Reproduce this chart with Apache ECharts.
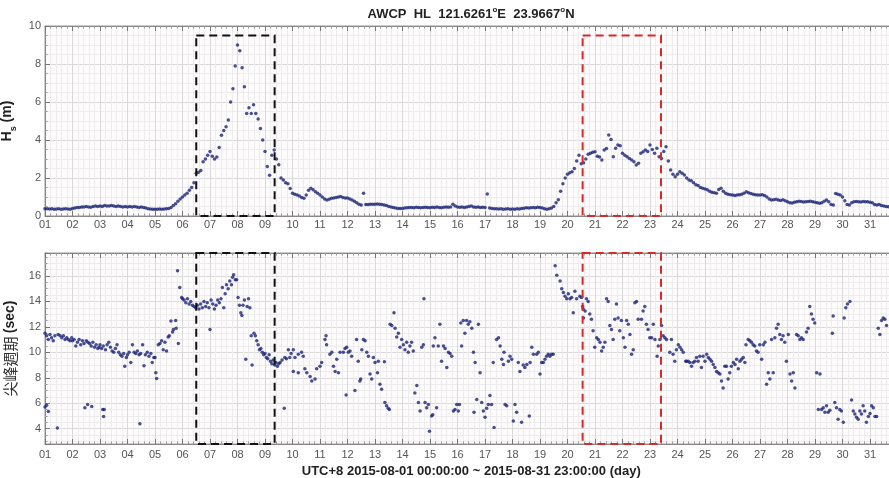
<!DOCTYPE html>
<html><head><meta charset="utf-8">
<script src="https://cdn.jsdelivr.net/npm/echarts@6/dist/echarts.min.js"></script>
<style>html,body{margin:0;padding:0;background:#fff}#c{width:889px;height:478px}</style>
</head><body><div id="c"></div>
<script>
// Significant wave height Hs (m), 2-hourly values, one row per day (Aug 1..31, 2015)
const hsByDay = [
[0.38,0.38,0.37,0.38,0.36,0.37,0.38,0.36,0.37,0.38,0.37,0.36],
[0.40,0.42,0.45,0.45,0.48,0.47,0.50,0.48,0.46,0.50,0.52,0.50],
[0.52,0.50,0.55,0.53,0.52,0.55,0.53,0.50,0.52,0.50,0.48,0.50],
[0.48,0.50,0.47,0.50,0.48,0.45,0.47,0.45,0.42,0.38,0.37,0.36],
[0.36,0.35,0.37,0.36,0.37,0.38,0.40,0.45,0.55,0.65,0.78,0.90],
[1.00,1.10,1.20,1.35,1.50,1.75,2.25,2.30,2.40,2.85,3.00,3.20],
[3.40,3.15,3.00,3.10,3.60,4.25,4.50,4.70,5.05,6.00,6.70,7.90],
[9.00,8.70,7.80,6.80,5.40,5.70,5.40,5.85,5.40,5.10,4.60,4.00],
[3.40,2.60,2.15,3.20,3.47,3.00,2.70,2.00,1.90,1.75,1.70,1.45],
[1.20,1.15,1.10,1.05,0.98,0.93,1.10,1.35,1.46,1.38,1.28,1.20],
[1.10,1.00,0.90,0.84,0.88,0.93,0.95,0.98,1.00,1.02,0.98,0.95],
[0.95,0.90,0.84,0.78,0.70,0.62,0.58,1.20,0.60,0.60,0.62,0.62],
[0.62,0.63,0.62,0.60,0.58,0.55,0.50,0.48,0.45,0.42,0.40,0.40],
[0.40,0.42,0.44,0.45,0.45,0.44,0.46,0.45,0.44,0.45,0.46,0.45],
[0.44,0.46,0.45,0.47,0.45,0.44,0.46,0.48,0.46,0.48,0.62,0.52],
[0.48,0.46,0.47,0.45,0.48,0.50,0.52,0.48,0.46,0.47,0.45,0.46],
[0.45,1.16,0.42,0.40,0.38,0.38,0.37,0.38,0.36,0.37,0.38,0.36],
[0.37,0.36,0.38,0.37,0.39,0.41,0.43,0.42,0.44,0.45,0.44,0.46],
[0.45,0.42,0.38,0.36,0.38,0.42,0.50,0.70,0.85,1.30,1.70,2.00],
[2.20,2.28,2.33,2.50,2.90,3.20,2.75,2.80,3.00,3.25,3.30,3.35],
[3.38,3.15,3.10,2.95,3.47,3.55,4.26,4.03,3.12,3.56,3.74,3.70],
[3.30,3.20,3.12,3.03,2.95,2.86,2.68,2.77,3.30,3.38,3.47,3.40],
[3.74,3.50,3.30,3.56,3.12,3.03,3.40,3.65,2.90,2.42,2.20,2.07],
[2.20,2.33,2.25,2.16,2.00,1.90,1.85,1.75,1.65,1.60,1.50,1.46],
[1.42,1.38,1.30,1.25,1.22,1.20,1.40,1.46,1.30,1.20,1.15,1.12],
[1.10,1.08,1.10,1.12,1.15,1.20,1.28,1.22,1.18,1.15,1.12,1.10],
[1.10,1.12,1.08,1.00,0.90,0.84,0.85,0.88,0.84,0.82,0.85,0.80],
[0.75,0.70,0.68,0.72,0.75,0.78,0.76,0.74,0.75,0.76,0.78,0.75],
[0.72,0.70,0.67,0.70,0.78,0.84,0.75,0.60,0.58,1.19,1.15,1.10],
[1.00,0.80,0.60,0.58,0.70,0.75,0.76,0.75,0.74,0.76,0.75,0.75],
[0.72,0.70,0.60,0.58,0.60,0.55,0.52,0.50,0.49,0.48,0.47,0.46]
];
const hsStepsPerDay = 12;

// Peak period Tp (sec): [day of month (fractional), seconds]
const tpPoints = [
[1.00,11.5],[1.00,5.7],[1.06,11.3],[1.06,5.85],[1.12,11.0],[1.12,5.35],[1.18,11.4],[1.24,11.15],[1.30,10.9],[1.36,11.3],[1.45,4.05],[1.48,11.4],[1.55,11.3],[1.61,11.15],[1.67,11.3],[1.73,11.0],[1.79,11.15],[1.85,11.0],[1.91,10.9],[1.97,11.15],
[2.00,10.9],[2.06,11.0],[2.12,10.5],[2.18,10.8],[2.24,11.0],[2.30,10.6],[2.36,10.9],[2.42,10.7],[2.45,5.65],[2.50,10.9],[2.55,5.9],[2.56,10.8],[2.62,10.7],[2.68,10.5],[2.70,5.75],[2.74,10.8],[2.80,10.4],[2.86,10.6],[2.92,10.3],[2.97,10.4],
[3.00,10.6],[3.06,10.3],[3.10,5.5],[3.12,10.5],[3.13,4.95],[3.15,5.5],[3.20,10.2],[3.26,10.6],[3.32,10.8],[3.38,10.4],[3.44,10.1],[3.50,10.0],[3.56,10.3],[3.62,10.6],[3.68,10.0],[3.74,9.8],[3.80,9.7],[3.86,9.9],[3.90,8.9],[3.96,9.6],
[4.00,9.8],[4.06,10.0],[4.12,9.2],[4.18,10.6],[4.24,10.0],[4.30,9.9],[4.36,10.1],[4.42,9.8],[4.45,4.4],[4.48,9.9],[4.55,10.6],[4.60,8.95],[4.65,9.8],[4.72,10.0],[4.78,9.7],[4.85,9.9],[4.90,9.2],[4.96,9.6],
[5.00,9.6],[5.03,8.4],[5.06,7.95],[5.12,10.6],[5.18,10.7],[5.24,10.9],[5.30,10.2],[5.36,10.8],[5.42,10.1],[5.48,11.2],[5.52,11.3],[5.58,12.45],[5.64,11.6],[5.67,11.8],[5.75,12.5],[5.77,11.9],[5.82,16.4],[5.85,10.7],[5.90,15.1],[5.97,14.3],
[6.00,14.2],[6.06,14.1],[6.12,13.9],[6.18,14.2],[6.24,13.8],[6.30,14.0],[6.36,13.7],[6.42,13.6],[6.48,13.5],[6.54,13.7],[6.60,13.4],[6.66,13.8],[6.72,13.5],[6.78,14.0],[6.84,13.6],[6.90,13.9],[6.96,13.5],
[7.00,11.8],[7.04,14.1],[7.10,13.8],[7.16,13.4],[7.22,13.7],[7.28,14.1],[7.34,13.9],[7.40,14.2],[7.45,15.1],[7.50,13.5],[7.55,14.6],[7.60,15.3],[7.66,15.0],[7.72,15.6],[7.78,15.3],[7.82,15.9],[7.86,16.1],[7.92,15.7],[7.97,15.7],
[8.02,14.3],[8.07,13.7],[8.12,13.1],[8.16,12.9],[8.20,13.7],[8.25,14.1],[8.30,9.45],[8.35,13.6],[8.40,14.2],[8.45,13.5],[8.50,11.3],[8.53,9.0],[8.60,11.5],[8.65,11.3],[8.70,10.9],[8.75,10.6],[8.80,10.2],[8.85,10.3],[8.90,10.0],[8.95,9.8],
[9.00,9.9],[9.05,9.6],[9.10,9.5],[9.15,9.8],[9.20,9.3],[9.25,9.1],[9.30,9.4],[9.35,9.0],[9.40,9.2],[9.45,8.9],[9.50,9.1],[9.55,9.2],[9.62,9.4],[9.70,5.6],[9.72,9.6],[9.78,9.5],[9.85,10.2],[9.90,9.6],[9.95,9.9],
[10.03,10.2],[10.03,8.5],[10.09,9.6],[10.21,9.85],[10.21,8.4],[10.33,10.0],[10.39,9.7],[10.45,8.7],[10.52,8.4],[10.64,8.1],[10.70,7.75],[10.82,7.9],[10.88,8.7],[11.00,8.9],[11.06,9.2],
[11.18,11.0],[11.22,11.3],[11.24,10.6],[11.36,9.85],[11.43,10.0],[11.49,8.9],[11.55,8.5],[11.61,9.45],[11.67,8.4],[11.73,10.0],[11.85,10.0],[11.91,10.3],[11.95,6.65],[11.97,10.4],
[12.03,10.0],[12.09,10.1],[12.15,9.7],[12.27,7.0],[12.33,11.0],[12.39,9.3],[12.45,7.75],[12.48,7.9],[12.52,10.2],[12.58,11.0],[12.64,10.9],[12.70,10.0],[12.76,9.7],[12.82,8.3],[12.88,7.9],[12.94,9.6],
[13.00,9.2],[13.09,8.4],[13.12,9.3],[13.18,7.5],[13.24,7.1],[13.34,9.25],[13.36,6.05],[13.42,5.8],[13.48,5.6],[13.52,5.5],[13.55,12.2],[13.61,12.1],[13.69,13.1],[13.73,11.9],[13.79,11.2],[13.85,11.5],[13.91,10.4],[13.97,11.0],
[14.03,10.6],[14.09,10.2],[14.15,10.8],[14.21,10.0],[14.27,10.5],[14.33,10.8],[14.39,10.1],[14.45,6.8],[14.52,7.4],[14.58,6.05],[14.64,5.4],[14.70,10.4],[14.76,10.6],[14.78,14.2],[14.82,6.05],[14.88,5.65],[14.94,5.9],
[14.98,3.8],[15.06,5.0],[15.10,5.1],[15.12,10.5],[15.18,11.15],[15.24,5.65],[15.30,10.5],[15.36,12.2],[15.42,9.3],[15.49,10.5],[15.55,10.3],[15.61,8.8],[15.67,10.0],[15.73,9.9],[15.79,9.7],[15.85,5.4],[15.91,5.5],[15.97,5.9],
[16.03,5.4],[16.07,5.9],[16.12,12.3],[16.15,10.5],[16.21,12.5],[16.27,11.5],[16.33,12.5],[16.39,12.2],[16.45,12.4],[16.52,11.9],[16.58,10.0],[16.60,5.3],[16.64,9.2],[16.70,6.3],[16.76,12.2],[16.82,8.4],[16.88,6.05],[16.94,5.4],
[17.00,4.9],[17.06,5.6],[17.12,5.9],[17.18,6.6],[17.24,5.9],[17.30,9.2],[17.33,4.1],[17.42,11.0],[17.49,11.15],[17.55,10.5],[17.61,9.45],[17.67,9.05],[17.69,10.0],[17.73,5.9],[17.79,5.8],[17.85,9.3],[17.91,9.7],[17.97,9.45],
[18.03,4.6],[18.09,5.9],[18.15,5.3],[18.21,9.2],[18.27,8.5],[18.33,4.5],[18.39,9.0],[18.45,8.8],[18.52,9.05],[18.61,5.0],[18.64,9.2],[18.70,10.4],[18.76,9.85],[18.88,9.85],[18.94,10.0],
[19.00,8.3],[19.06,9.2],[19.12,9.2],[19.18,9.45],[19.24,9.7],[19.30,9.85],[19.36,9.7],[19.42,9.85],[19.48,9.85],[19.55,16.8],[19.61,16.05],[19.73,15.6],[19.79,15.0],[19.85,14.7],[19.91,14.4],[19.97,14.2],
[20.03,14.6],[20.09,14.2],[20.15,14.3],[20.21,13.1],[20.27,14.8],[20.33,14.2],[20.45,14.4],[20.51,14.3],[20.55,13.6],[20.57,13.4],[20.58,12.7],[20.64,13.25],[20.69,14.2],[20.75,14.0],[20.81,13.0],[20.87,12.6],[20.93,11.7],[20.99,10.4],
[21.06,11.15],[21.12,11.0],[21.18,10.8],[21.24,10.1],[21.30,10.4],[21.36,10.8],[21.42,14.2],[21.48,14.0],[21.54,12.1],[21.60,11.8],[21.66,11.0],[21.72,12.6],[21.78,13.8],[21.84,12.7],[21.90,11.7],[21.96,12.5],
[22.03,11.15],[22.09,10.4],[22.15,12.5],[22.21,12.2],[22.27,11.4],[22.33,9.85],[22.39,10.2],[22.45,13.9],[22.51,14.0],[22.57,12.6],[22.69,12.6],[22.75,13.25],[22.81,13.6],[22.87,12.2],[22.93,11.8],[22.99,11.15],
[23.06,11.15],[23.12,12.2],[23.18,11.0],[23.26,9.7],[23.30,10.5],[23.36,11.0],[23.42,12.1],[23.48,11.3],[23.54,11.15],[23.60,11.0],[23.72,10.0],[23.78,11.0],[23.84,9.85],[23.90,9.3],[23.96,10.2],
[24.03,10.6],[24.09,10.4],[24.15,10.2],[24.21,10.0],[24.30,9.3],[24.33,9.3],[24.39,9.3],[24.45,9.2],[24.51,8.9],[24.57,9.2],[24.63,9.3],[24.69,9.6],[24.75,9.3],[24.81,9.7],[24.87,8.8],[24.93,9.7],
[25.00,9.3],[25.06,9.85],[25.12,9.6],[25.18,9.45],[25.24,9.3],[25.30,9.05],[25.36,8.8],[25.42,8.5],[25.48,8.4],[25.54,8.3],[25.60,7.75],[25.66,7.2],[25.72,8.9],[25.78,8.9],[25.84,7.9],[25.90,8.4],[25.96,8.9],
[26.03,9.2],[26.09,9.05],[26.15,9.45],[26.21,8.7],[26.27,9.3],[26.33,9.45],[26.39,9.6],[26.45,9.2],[26.49,10.6],[26.57,11.0],[26.63,10.9],[26.69,10.8],[26.75,10.6],[26.81,10.5],[26.87,10.1],[26.93,10.0],[26.99,10.6],
[27.06,9.45],[27.12,10.6],[27.18,10.8],[27.24,7.5],[27.30,8.4],[27.36,7.9],[27.42,11.0],[27.48,8.4],[27.54,11.15],[27.60,11.9],[27.66,12.2],[27.72,11.4],[27.78,11.0],[27.84,11.3],[27.90,10.8],[27.96,9.3],
[28.03,11.4],[28.09,8.3],[28.15,7.75],[28.21,8.4],[28.27,7.2],[28.33,11.4],[28.39,11.3],[28.45,11.0],[28.51,11.15],[28.57,11.0],[28.69,11.6],[28.75,11.9],[28.81,13.6],[28.87,13.0],[28.93,12.6],[28.99,12.3],
[29.06,8.4],[29.12,5.5],[29.18,8.3],[29.24,5.5],[29.30,5.65],[29.36,5.3],[29.42,5.8],[29.48,5.3],[29.54,5.45],[29.63,11.5],[29.66,12.85],[29.72,6.05],[29.78,5.65],[29.84,4.75],[29.90,5.5],[29.96,5.4],
[30.03,4.5],[30.06,12.7],[30.12,13.5],[30.18,13.8],[30.27,14.0],[30.33,6.25],[30.39,5.4],[30.45,5.15],[30.51,4.9],[30.57,4.75],[30.63,5.4],[30.69,5.15],[30.75,5.8],[30.81,5.4],[30.87,4.5],[30.94,4.95],
[31.00,5.2],[31.06,5.8],[31.12,5.65],[31.18,4.95],[31.24,4.95],[31.30,11.9],[31.36,11.4],[31.42,12.5],[31.48,12.7],[31.54,12.6],[31.60,12.1]
];

// Highlighted event windows (day of month)
const boxBlack = [6.5, 9.35];
const boxRed = [20.55, 23.4];
const boxTopHs = 9.5;

const titleParts = ['AWCP  HL  121.6261', 'E  23.9667', 'N'];
const xTitle = 'UTC+8 2015-08-01 00:00:00 ~ 2015-08-31 23:00:00 (day)';
const dayMin = 1, dayMax = 32;
const hsRange = [0, 10];
const tpRange = [2.8, 17.8];

const hsData = [];
hsByDay.forEach((row, d) => row.forEach((v, k) => hsData.push([d + 1 + k / hsStepsPerDay, v])));

const dotColor = '#1c2478';
const gridLine = '#dadada';
const minorLine = '#ededed';
const labelColor = '#555';

function xAxes(gi, showLabels, margin, extra) {
  const common = {
    type: 'value', gridIndex: gi, min: dayMin, max: dayMax, interval: 1,
    axisLine: { show: true, lineStyle: { color: '#888', width: 1 } },
    axisTick: { show: true, inside: true, length: 5, lineStyle: { color: '#777' } },
    minorTick: { show: true, splitNumber: 5, length: 2.5, lineStyle: { color: '#999' } },
  };
  return [
    Object.assign({}, common, {
      position: 'bottom',
      axisLabel: { show: showLabels, margin: margin, color: labelColor, fontSize: 11, fontFamily: 'Liberation Sans, Arial',
        formatter: v => (v <= 31 ? String(v).padStart(2, '0') : '') },
      splitLine: { show: true, lineStyle: { color: gridLine, width: 1 } },
      minorSplitLine: { show: true, lineStyle: { color: minorLine, width: 1 } }
    }, extra || {}),
    Object.assign({}, common, {
      position: 'top', axisLabel: { show: false }, splitLine: { show: false }
    })
  ];
}

const dashBlack = { color: 'rgba(0,0,0,0)', borderColor: '#111', borderWidth: 2, borderType: [8, 5] };
const dashRed = { color: 'rgba(0,0,0,0)', borderColor: '#d42a2a', borderWidth: 2, borderType: [8, 5] };

const option = {
  animation: false,
  backgroundColor: '#ffffff',
  graphic: [{
    type: 'text', x: 471, y: 13, z: 10,
    style: {
      text: '{b|' + titleParts[0] + '}{s|o}{b|' + titleParts[1] + '}{s|o}{b|' + titleParts[2] + '}',
      align: 'center', verticalAlign: 'middle',
      rich: {
        b: { fontSize: 13, fontWeight: 'bold', fontFamily: 'Liberation Sans, Arial', fill: '#222', lineHeight: 15, verticalAlign: 'bottom' },
        s: { fontSize: 8, fontWeight: 'bold', fontFamily: 'Liberation Sans, Arial', fill: '#222', lineHeight: 15, verticalAlign: 'top' }
      }
    }
  }],
  grid: [
    { left: 45, top: 26, width: 852.5, height: 190, show: true, backgroundColor: '#fdfbfb', borderColor: '#999', borderWidth: 1, containLabel: false, outerBoundsMode: 'none' },
    { left: 45, top: 253, width: 852.5, height: 191, show: true, backgroundColor: '#fdfbfb', borderColor: '#999', borderWidth: 1, containLabel: false, outerBoundsMode: 'none' }
  ],
  xAxis: [
    ...xAxes(0, true, 3),
    ...xAxes(1, true, 5, {
      name: xTitle, nameLocation: 'middle', nameGap: 21,
      nameTextStyle: { fontSize: 13, fontWeight: 'bold', color: '#222', fontFamily: 'Liberation Sans, Arial' }
    })
  ],
  yAxis: [
    {
      type: 'value', gridIndex: 0, min: hsRange[0], max: hsRange[1], interval: 2,
      name: '{b|H}{sub|s}{b| (m)}', nameLocation: 'middle', nameRotate: 90, nameGap: 21,
      nameTextStyle: { rich: {
        b: { fontSize: 14, fontWeight: 'bold', color: '#222', fontFamily: 'Liberation Sans, Arial', lineHeight: 18, verticalAlign: 'top' },
        sub: { fontSize: 9, fontWeight: 'bold', color: '#222', fontFamily: 'Liberation Sans, Arial', lineHeight: 18, verticalAlign: 'bottom' }
      } },
      axisLine: { show: true, lineStyle: { color: '#888' } },
      axisTick: { show: true, inside: true, length: 5, lineStyle: { color: '#777' } },
      minorTick: { show: true, splitNumber: 4, length: 2.5, lineStyle: { color: '#999' } },
      axisLabel: { color: labelColor, fontSize: 11, margin: 4, fontFamily: 'Liberation Sans, Arial' },
      splitLine: { show: true, lineStyle: { color: gridLine } },
      minorSplitLine: { show: true, lineStyle: { color: minorLine } }
    },
    {
      type: 'value', gridIndex: 1, min: tpRange[0], max: tpRange[1], splitNumber: 7,
      name: '{c|尖峰週期} {b|(sec)}', nameLocation: 'middle', nameRotate: 90, nameGap: 22,
      nameTextStyle: { rich: {
        c: { fontSize: 15, color: '#333', fontFamily: 'Noto Sans CJK TC', lineHeight: 18 },
        b: { fontSize: 14, fontWeight: 'bold', color: '#222', fontFamily: 'Liberation Sans, Arial', lineHeight: 18 }
      } },
      axisLine: { show: true, lineStyle: { color: '#888' } },
      axisTick: { show: true, inside: true, length: 5, lineStyle: { color: '#777' } },
      minorTick: { show: true, splitNumber: 4, length: 2.5, lineStyle: { color: '#999' } },
      axisLabel: { color: labelColor, fontSize: 11, margin: 4, fontFamily: 'Liberation Sans, Arial', showMinLabel: false, showMaxLabel: false },
      splitLine: { show: true, lineStyle: { color: gridLine } },
      minorSplitLine: { show: true, lineStyle: { color: minorLine } }
    }
  ],
  series: [
    {
      type: 'scatter', xAxisIndex: 0, yAxisIndex: 0, data: hsData,
      symbolSize: 3.5, itemStyle: { color: dotColor }, silent: true,
      markArea: { silent: true, z: 5, data: [
        [{ coord: [boxBlack[0], boxTopHs], itemStyle: dashBlack }, { coord: [boxBlack[1], hsRange[0]] }],
        [{ coord: [boxRed[0], boxTopHs], itemStyle: dashRed }, { coord: [boxRed[1], hsRange[0]] }]
      ] }
    },
    {
      type: 'scatter', xAxisIndex: 2, yAxisIndex: 1, data: tpPoints,
      symbolSize: 3.5, itemStyle: { color: dotColor }, silent: true,
      markArea: { silent: true, z: 5, data: [
        [{ coord: [boxBlack[0], tpRange[1]], itemStyle: dashBlack }, { coord: [boxBlack[1], tpRange[0]] }],
        [{ coord: [boxRed[0], tpRange[1]], itemStyle: dashRed }, { coord: [boxRed[1], tpRange[0]] }]
      ] }
    }
  ]
};
echarts.init(document.getElementById('c'), null, { renderer: 'canvas' }).setOption(option);
</script></body></html>
